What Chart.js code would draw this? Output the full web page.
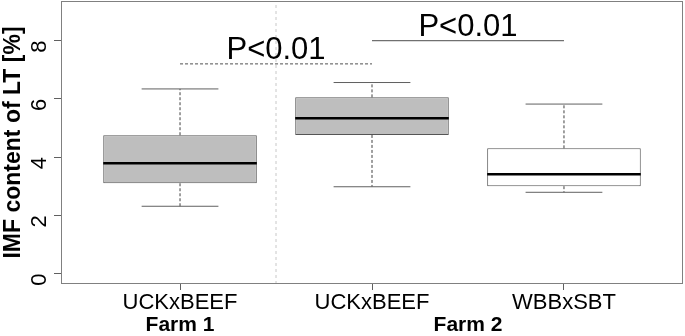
<!DOCTYPE html>
<html>
<head>
<meta charset="utf-8">
<script src="https://cdn.jsdelivr.net/npm/chart.js@4.4.1/dist/chart.umd.min.js"></script>
<style>
  html, body { margin: 0; padding: 0; background: #fff; }
  #wrap { width: 685px; height: 336px; }
</style>
</head>
<body>
<div id="wrap"><canvas id="imfChart"></canvas></div>
<script>
// groups and their x positions
const breeds = ['UCKxBEEF', 'UCKxBEEF', 'WBBxSBT'];
const positions = [1, 2, 3];
const farms = ['Farm 1', 'Farm 2'];
const farmCenters = [1, 2.5];

// box statistics (IMF %)
const whiskerLow = [2.31, 2.98, 2.79];
const q1 = [3.10, 4.76, 3.00];
const medians = [3.79, 5.33, 3.41];
const q3 = [4.75, 6.05, 4.30];
const whiskerHigh = [6.34, 6.56, 5.82];
const boxFills = ['#bebebe', '#bebebe', '#ffffff'];

const yTicks = [0, 2, 4, 6, 8];

// significance brackets
const sigFrom = [1, 2];
const sigTo = [2, 3];
const sigLevel = [7.2, 8.0];
const sigLabel = ['P<0.01', 'P<0.01'];

const FONT = '"Liberation Sans", Arial, sans-serif';

// helpers to build broken line data (gap = y null)
function segments(list) {
    const out = [];
    list.forEach(seg => {
        out.push(seg[0], seg[1], { x: seg[0].x, y: null });
    });
    return out;
}

const whiskerData = segments(positions.flatMap((p, i) => [
    [{ x: p, y: q3[i] }, { x: p, y: whiskerHigh[i] }],
    [{ x: p, y: q1[i] }, { x: p, y: whiskerLow[i] }]
]));
const capData = segments(positions.flatMap((p, i) => [
    [{ x: p - 0.2, y: whiskerHigh[i] }, { x: p + 0.2, y: whiskerHigh[i] }],
    [{ x: p - 0.2, y: whiskerLow[i] }, { x: p + 0.2, y: whiskerLow[i] }]
]));
const medianData = segments(positions.map((p, i) =>
    [{ x: p - 0.4, y: medians[i] }, { x: p + 0.4, y: medians[i] }]
));

function lineSet(data, color, width, dash, order) {
    return {
        type: 'line',
        data: data,
        borderColor: color,
        borderWidth: width,
        borderDash: dash,
        borderCapStyle: 'butt',
        pointRadius: 0,
        fill: false,
        tension: 0,
        spanGaps: false,
        order: order
    };
}

const annotate = {
    id: 'annotate',
    afterDatasetsDraw(chart) {
        const { ctx, chartArea: a, scales: { x, y } } = chart;
        ctx.save();
        ctx.strokeStyle = '#808080';
        ctx.lineWidth = 1;
        ctx.strokeRect(a.left + 0.5, a.top + 0.5, a.right - a.left - 1, a.bottom - a.top - 1);

        ctx.fillStyle = '#000';
        ctx.font = '31px ' + FONT;
        ctx.textAlign = 'center';
        ctx.textBaseline = 'alphabetic';
        sigLabel.forEach((t, i) => {
            ctx.fillText(t, x.getPixelForValue((sigFrom[i] + sigTo[i]) / 2), y.getPixelForValue(sigLevel[i]) - 5);
        });
        ctx.restore();
    },
    afterDraw(chart) {
        const { ctx, chartArea: a, scales: { x } } = chart;
        ctx.save();
        ctx.fillStyle = '#000';
        ctx.font = 'bold 21px ' + FONT;
        ctx.textAlign = 'center';
        ctx.textBaseline = 'middle';
        farms.forEach((f, i) => {
            ctx.fillText(f, x.getPixelForValue(farmCenters[i]), a.bottom + 41);
        });
        ctx.restore();
    }
};

new Chart(document.getElementById('imfChart'), {
    type: 'bar',
    data: {
        datasets: [
            lineSet(medianData, '#000000', 2.5, [], 1),
            lineSet(capData, '#606060', 1, [], 2),
            lineSet(whiskerData, '#404040', 1, [3, 2], 2),
            lineSet(segments([[{ x: sigFrom[0], y: sigLevel[0] }, { x: sigTo[0], y: sigLevel[0] }]]), '#505050', 1, [3, 2], 2),
            lineSet(segments([[{ x: sigFrom[1], y: sigLevel[1] }, { x: sigTo[1], y: sigLevel[1] }]]), '#707070', 1.2, [], 2),
            lineSet([{ x: 1.5, y: -0.36 }, { x: 1.5, y: 9.36 }], '#c8c8c8', 1, [3, 3], 3),
            {
                type: 'bar',
                data: positions.map((p, i) => ({ x: p, y: [q1[i], q3[i]] })),
                backgroundColor: boxFills,
                borderColor: '#555555',
                borderWidth: 1,
                borderSkipped: false,
                barPercentage: 0.8,
                categoryPercentage: 1.0,
                order: 5
            }
        ]
    },
    options: {
        responsive: true,
        maintainAspectRatio: false,
        animation: false,
        events: [],
        layout: { padding: { top: 1, right: 2, left: 0, bottom: 0 } },
        plugins: {
            legend: { display: false },
            tooltip: { enabled: false }
        },
        scales: {
            x: {
                type: 'linear',
                min: 0.38,
                max: 3.62,
                offset: false,
                afterBuildTicks: s => { s.ticks = positions.map(v => ({ value: v })); },
                afterFit: s => { s.height = 52; s.paddingLeft = 0; s.paddingRight = 0; },
                border: { display: false },
                grid: { offset: false, drawOnChartArea: false, drawTicks: true, tickLength: 6, color: '#606060' },
                ticks: {
                    color: '#000',
                    font: { family: FONT, size: 22 },
                    padding: 0,
                    maxRotation: 0,
                    callback: v => breeds[positions.indexOf(v)]
                }
            },
            y: {
                min: -0.36,
                max: 9.36,
                afterBuildTicks: s => { s.ticks = yTicks.map(v => ({ value: v })); },
                afterFit: s => { s.width = 61; s.paddingTop = 0; s.paddingBottom = 0; },
                border: { display: false },
                grid: { drawOnChartArea: false, drawTicks: true, tickLength: 7, color: '#606060' },
                ticks: {
                    color: '#000',
                    font: { family: FONT, size: 22 },
                    padding: 14,
                    minRotation: 90,
                    maxRotation: 90
                },
                title: {
                    display: true,
                    text: 'IMF content of LT [%]',
                    color: '#000',
                    font: { family: FONT, size: 23, weight: 'bold' },
                    padding: 0
                }
            }
        }
    },
    plugins: [annotate]
});
</script>
</body>
</html>
